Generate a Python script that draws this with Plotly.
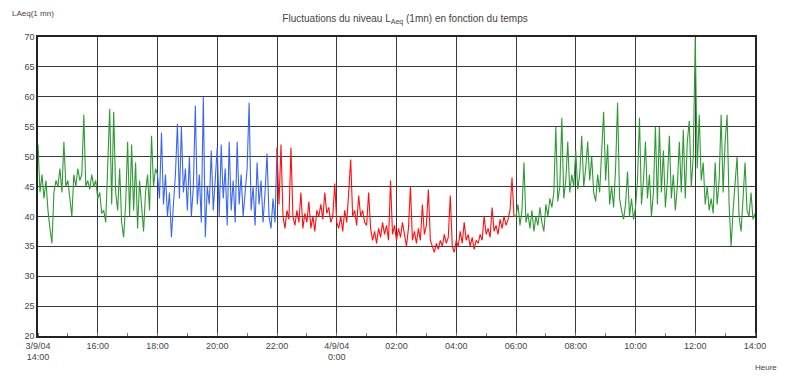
import plotly.graph_objects as go
from datetime import datetime, timedelta

# Sampling: one reading every 4 minutes, starting 3/9/04 14:00
START = datetime(2004, 9, 3, 14, 0)
STEP_MIN = 4

# LAeq(1 mn) values (dB)
green_afternoon = [52, 44, 47, 43, 46, 41, 38, 35.5, 44, 46, 45, 48, 44, 52.5, 45, 46, 43, 40, 47, 45,
                   48, 46, 47, 57, 45, 46, 44.5, 47, 45, 46, 43, 44, 40.5, 41, 39, 47, 58, 42, 57.5, 44,
                   41, 48, 39, 36.5, 42, 52.5, 40, 52, 41, 49, 38, 46, 42, 37.5, 44, 47, 41, 53.5, 45, 48]
blue_evening = [47, 43, 54, 42, 47, 40, 44, 36.5, 42, 47, 55.5, 43, 55, 44, 48, 41, 50, 40, 45, 58.5,
                42, 47, 39, 60, 36.5, 45, 42, 51, 41, 47, 51.5, 40, 52, 43, 48, 38.5, 52.5, 41, 46, 39,
                52.5, 42, 47, 40, 44, 48, 59, 41, 45, 38.5, 49, 42, 46, 39, 44, 50.5, 40, 38, 43, 39]
red_night = [51.5, 42, 52, 40, 38, 41, 39.5, 51.5, 40, 38.5, 41, 39, 44, 38, 40.5, 39, 42.5, 38, 40, 37.5,
             41, 40, 42, 39.5, 44, 40.5, 41.5, 39, 40, 45.5, 39, 38, 40, 37.5, 41, 39, 44, 49.5, 40, 41,
             38.5, 43.5, 40, 41, 39, 38.5, 44, 38, 36, 37.5, 35.5, 38, 36.5, 39, 37, 38.5, 36, 46, 37, 38.5,
             36, 38, 36.5, 39, 37, 35, 38, 45, 36, 37.5, 35.5, 38, 36, 42, 37, 38.5, 44.5, 36, 35, 34,
             35.5, 34.5, 36, 35, 37, 35.5, 36.5, 43.5, 35, 34, 36, 35, 37.5, 35.5, 39, 36, 37, 35, 36.5, 34.5,
             36, 35.5, 37, 36, 40, 37, 38, 36.5, 41.5, 37.5, 38.5, 37, 39.5, 38, 40, 38.5, 39.5, 41, 46.5, 40]
green_morning = [40, 42, 38.5, 41, 49, 39, 40.5, 38, 41, 37.5, 40, 38.5, 41.5, 39, 37.5, 42, 40, 43, 41.5, 44,
                 55, 42.5, 45, 56.5, 43, 46, 52.5, 44, 47, 45, 51, 44.5, 47, 53.5, 45, 48, 52.5, 46, 50, 44,
                 42.5, 47, 44, 50, 57.5, 46, 52, 42, 45, 41.5, 48, 59, 43, 41, 39.5, 42, 47.5, 40, 43, 39.5,
                 41.5, 46, 56.5, 42, 46, 52.5, 43, 47, 40, 44, 55, 42, 55, 44, 51, 41.5, 46, 53.5, 43, 47,
                 41, 45, 52.5, 44, 54.5, 43, 52.5, 56, 45, 50, 69.8, 48, 57, 46, 49, 42, 45, 41, 43, 40.5,
                 49, 42, 46, 57, 44, 52.5, 57, 42, 35, 41, 46, 50, 40, 37.5, 43, 49, 41, 40, 44, 39.5, 40.5]

segments = [
    ("green_afternoon", green_afternoon, "#2f9a35"),
    ("blue_evening", blue_evening, "#3a66f0"),
    ("red_night", red_night, "#ff1010"),
    ("green_morning", green_morning, "#2f9a35"),
]

tick_hours = [0, 2, 4, 6, 8, 10, 12, 14, 16, 18, 20, 22, 24]
tick_labels = ["3/9/04<br>14:00", "16:00", "18:00", "20:00", "22:00", "4/9/04<br>0:00",
               "02:00", "04:00", "06:00", "08:00", "10:00", "12:00", "14:00"]
y_ticks = [20, 25, 30, 35, 40, 45, 50, 55, 60, 65, 70]

fig = go.Figure()
offset = 0
for i, (name, vals, col) in enumerate(segments):
    ys = list(vals)
    if i + 1 < len(segments):
        ys = ys + [segments[i + 1][1][0]]
    xs = [START + timedelta(minutes=STEP_MIN * (offset + k)) for k in range(len(ys))]
    fig.add_trace(go.Scatter(x=xs, y=ys, mode="lines", name=name,
                             line=dict(color=col, width=1.1), showlegend=False,
                             hoverinfo="skip"))
    offset += len(vals)

tick_vals = [START + timedelta(hours=h) for h in tick_hours]

fig.update_layout(
    width=777, height=368,
    margin=dict(l=30, r=30, t=29, b=40),
    paper_bgcolor="white", plot_bgcolor="white",
    font=dict(family="Liberation Sans, Arial, sans-serif", size=9, color="#444"),
    title=dict(text="Fluctuations du niveau L<sub>Aeq</sub> (1mn) en fonction du temps",
               x=0.511, xanchor="center", y=0.972, yanchor="middle",
               font=dict(size=10, color="#444")),
    xaxis=dict(
        type="date", automargin=False,
        range=[START, START + timedelta(hours=24)],
        tickmode="array", tickvals=tick_vals, ticktext=tick_labels,
        showgrid=True, gridcolor="#3a3a3a", gridwidth=1,
        showline=True, linecolor="#222", linewidth=1.5, mirror=True,
        ticks="", zeroline=False,
        minor=dict(ticks="inside", ticklen=3, tickcolor="#777", dtick=3600000, showgrid=False),
        tickfont=dict(size=9, color="#444"),
    ),
    yaxis=dict(
        range=[20, 70], tickmode="array", tickvals=y_ticks, automargin=False,
        showgrid=True, gridcolor="#3a3a3a", gridwidth=1,
        showline=True, linecolor="#222", linewidth=1.5, mirror=True,
        ticks="", zeroline=False,
        tickfont=dict(size=9, color="#444"),
    ),
    annotations=[
        dict(text="LAeq(1 mn)", xref="paper", yref="paper", x=-0.039, y=1.08,
             xanchor="left", yanchor="middle", showarrow=False,
             font=dict(size=8, color="#444")),
        dict(text="Heure", xref="paper", yref="paper", x=1.034, y=-0.128,
             xanchor="right", yanchor="bottom", showarrow=False,
             font=dict(size=8, color="#444")),
    ],
)

fig.write_html("out.html")
